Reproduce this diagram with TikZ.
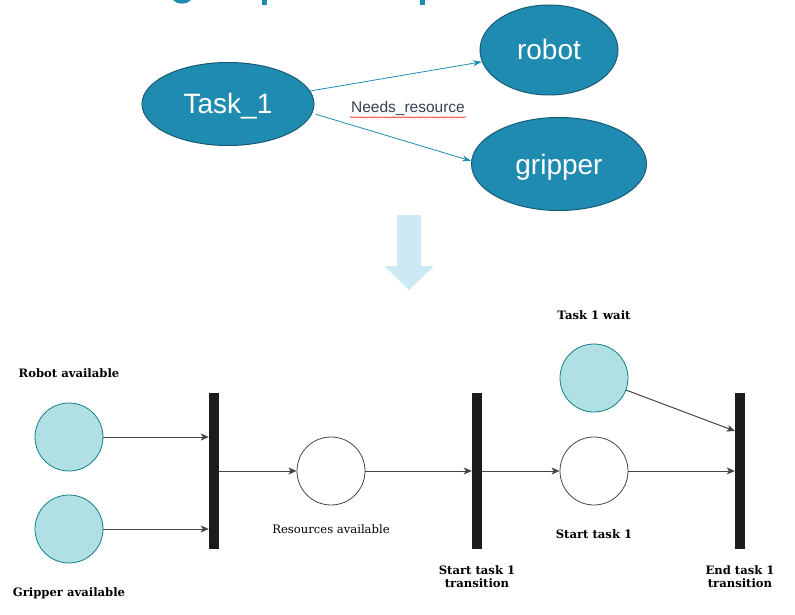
\documentclass[tikz,border=0pt]{standalone}
\usepackage{fontspec}
\setmainfont{DejaVu Serif}
\newfontfamily\conceptfont{Liberation Sans}
\usetikzlibrary{positioning,arrows.meta,shapes.geometric,decorations.pathmorphing}
\definecolor{taskblue}{RGB}{31,139,176}
\definecolor{taskborder}{RGB}{22,92,118}
\definecolor{hintblue}{RGB}{204,234,244}
\definecolor{placefill}{RGB}{176,224,227}
\definecolor{placeteal}{RGB}{18,128,136}
\definecolor{bargray}{RGB}{28,28,28}
\definecolor{flowgray}{RGB}{70,70,70}
\definecolor{relgray}{RGB}{55,65,80}
\begin{document}
\begin{tikzpicture}[x=1pt, y=-1pt,
    concept/.style={ellipse, draw=taskborder, line width=1pt, fill=taskblue,
        text=white, inner sep=0pt, text height=20pt, text depth=0pt,
        font=\conceptfont\fontsize{28}{30}\selectfont},
    link/.style={draw=taskblue, line width=0.8pt, -{Stealth[length=9pt,width=6pt]}},
    place/.style={circle, draw=flowgray, fill=white, line width=0.8pt,
        minimum size=68pt, inner sep=0pt},
    marked/.style={place, draw=placeteal, fill=placefill},
    bar/.style={rectangle, fill=bargray, minimum width=10pt, minimum height=156pt,
        inner sep=0pt},
    flow/.style={draw=flowgray, line width=1pt, -{Stealth[length=8pt,width=7pt,inset=2pt]}},
    boldlabel/.style={font=\bfseries\fontsize{11.6}{13}\selectfont, align=center, inner sep=0pt},
    plainlabel/.style={font=\fontsize{11.6}{13}\selectfont, inner sep=0pt}
]
\useasboundingbox (0,0) rectangle (795,615);
% title, cut off at the top
\fill[taskblue] (173,0) .. controls (177,5) and (187,5) .. (191,0) -- cycle;
\fill[taskblue] (262,0) rectangle (267,5);
\fill[taskblue] (420,0) rectangle (425,5);

% task graph
\node (task) [concept, minimum width=172pt, minimum height=83pt] at (228,104) {Task\_1};
\node (robot) [concept, minimum width=138pt, minimum height=90pt] at (549,50) {robot};
\node (gripper) [concept, minimum width=175pt, minimum height=93pt] at (559,164) {gripper};
\draw[link] (task.9) -- (robot.190);
\draw[link] ([xshift=4pt]task.-7) -- (gripper.178);
\node (needs) [font=\conceptfont\fontsize{15.5}{17}\selectfont, text=relgray, inner sep=1pt]
    at (408,108) {Needs\_resource};
\draw[red, line width=0.4pt, decorate, decoration={snake, amplitude=0.7pt, segment length=3pt}]
    ([yshift=-1pt]needs.south west) -- ([yshift=-1pt]needs.south east);

% hint arrow
\fill[hintblue] (397,215) -- (421,215) -- (421,266) -- (434,266) -- (409,290)
    -- (384,266) -- (397,266) -- cycle;

% petri net
\node (robotav) [marked] at (69,437) {};
\node (gripperav) [marked] at (69,529) {};
\node (bar1) [bar] at (214,471) {};
\node (resav) [place] at (331,471) {};
\node (bar2) [bar] at (477,471) {};
\node (wait) [marked] at (594,378) {};
\node (start) [place] at (594,471) {};
\node (bar3) [bar] at (740,471) {};

\node [boldlabel, above=25pt of robotav] {Robot available};
\node [boldlabel, below=24pt of gripperav] {Gripper available};
\node [plainlabel, below=19pt of resav] {Resources available};
\node [boldlabel, above=24pt of wait] {Task 1 wait};
\node [boldlabel, below=24pt of start] {Start task 1};
\node [boldlabel, below=16pt of bar2] {Start task 1\\transition};
\node [boldlabel, below=16pt of bar3] {End task 1\\transition};

\draw[flow] (robotav) -- (robotav -| bar1.west);
\draw[flow] (gripperav) -- (gripperav -| bar1.west);
\draw[flow] (bar1) -- (resav);
\draw[flow] (resav) -- (bar2.west);
\draw[flow] (bar2) -- (start);
\draw[flow] (start) -- (bar3.west);
\draw[flow] (wait) -- ([yshift=40pt]bar3.west);
\end{tikzpicture}
\end{document}
